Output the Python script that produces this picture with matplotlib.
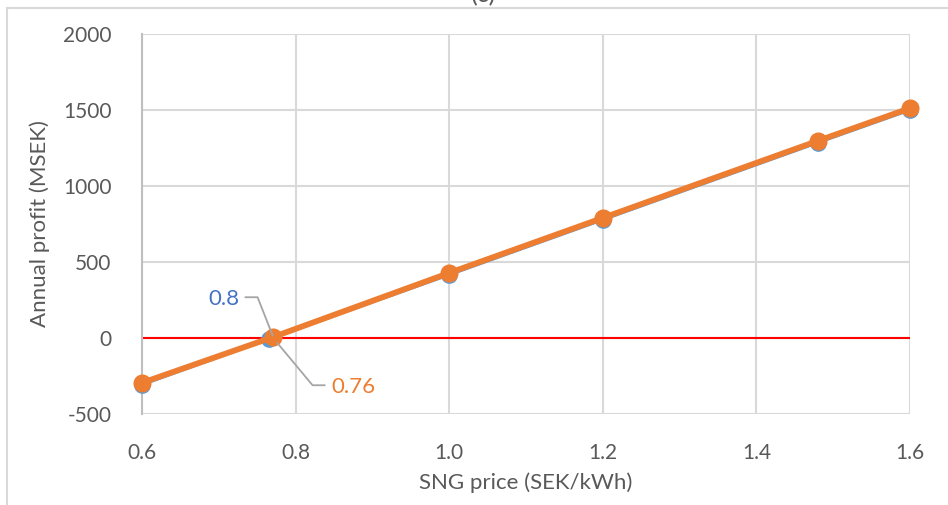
import numpy as np
import matplotlib
matplotlib.use("Agg")
import matplotlib.pyplot as plt
from matplotlib.lines import Line2D

plt.rcParams['font.family'] = ['Lato', 'DejaVu Sans']
plt.rcParams['axes.unicode_minus'] = False

# data
price_blue = [0.6, 0.765, 1.0, 1.2, 1.48, 1.6]
profit_blue = [-307, -7, 416, 778, 1285, 1500]
price_orange = [0.6, 0.77, 1.0, 1.2, 1.48, 1.6]
profit_orange = [-295, 5, 428, 790, 1297, 1512]
label_blue = "0.8"
label_orange = "0.76"
x_ticks = [0.6, 0.8, 1.0, 1.2, 1.4, 1.6]
y_ticks = [-500, 0, 500, 1000, 1500, 2000]

W, H = 948, 505
fig = plt.figure(figsize=(W / 100, H / 100), dpi=100)
ax = fig.add_axes([142 / W, 1 - 414 / H, 768 / W, 380 / H])

grid_c = "#D9D9D9"
ax.set_xlim(0.6, 1.6)
ax.set_ylim(-500, 2000)
ax.set_xticks(x_ticks)
ax.set_xticklabels([f"{t:.1f}" for t in x_ticks])
ax.set_yticks(y_ticks)
ax.grid(True, color=grid_c, linewidth=1.5, zorder=0)
for s in ["top", "right", "bottom"]:
    ax.spines[s].set_visible(False)
ax.spines["left"].set_color("#BFBFBF")
ax.spines["left"].set_linewidth(1.5)
ax.tick_params(length=0, labelsize=15, colors="#595959")
ax.tick_params(axis="x", pad=21)
ax.tick_params(axis="y", pad=22)

ax.axhline(0, color="#FF0000", linewidth=1.5, zorder=2)

ax.plot(price_blue, profit_blue, color="#5B9BD5", linewidth=2.2,
        marker="o", markersize=11, zorder=3, clip_on=False)
ax.plot(price_orange, profit_orange, color="#ED7D31", linewidth=4.2,
        marker="o", markersize=12, zorder=4, clip_on=False)

ax.set_xlabel("SNG price (SEK/kWh)", fontsize=16, color="#595959", labelpad=7)
ax.set_ylabel("Annual profit (MSEK)", fontsize=16, color="#595959", labelpad=9)

# data labels with leader lines
fig.canvas.draw()
px, py = ax.transData.transform((price_orange[1], profit_orange[1]))
lead = "#A5A5A5"
fig.add_artist(Line2D([px - 27, px - 15, px], [py + 40, py + 40, py + 2],
                      color=lead, linewidth=1.3, transform=None, zorder=5))
fig.add_artist(Line2D([px + 5, px + 40, px + 52], [py - 6, py - 48, py - 48],
                      color=lead, linewidth=1.3, transform=None, zorder=5))
fig.text((px - 33) / W, (py + 38) / H, label_blue, ha="right", va="center",
         fontsize=16, color="#4472C4")
fig.text((px + 59) / W, (py - 50) / H, label_orange, ha="left", va="center",
         fontsize=16, color="#ED7D31")

# chart area border (partially visible) and the title that is cut off at the top
fig.add_artist(Line2D([7 / W, 1], [1 - 8 / H, 1 - 8 / H], color=grid_c, linewidth=1.5))
fig.add_artist(Line2D([7 / W, 7 / W], [0, 1 - 8 / H], color=grid_c, linewidth=1.5))
fig.text(484 / W, 1 - 6 / H, "(c)", ha="center", va="bottom", fontsize=18, color="#595959")

fig.savefig("out.png", dpi=100)
